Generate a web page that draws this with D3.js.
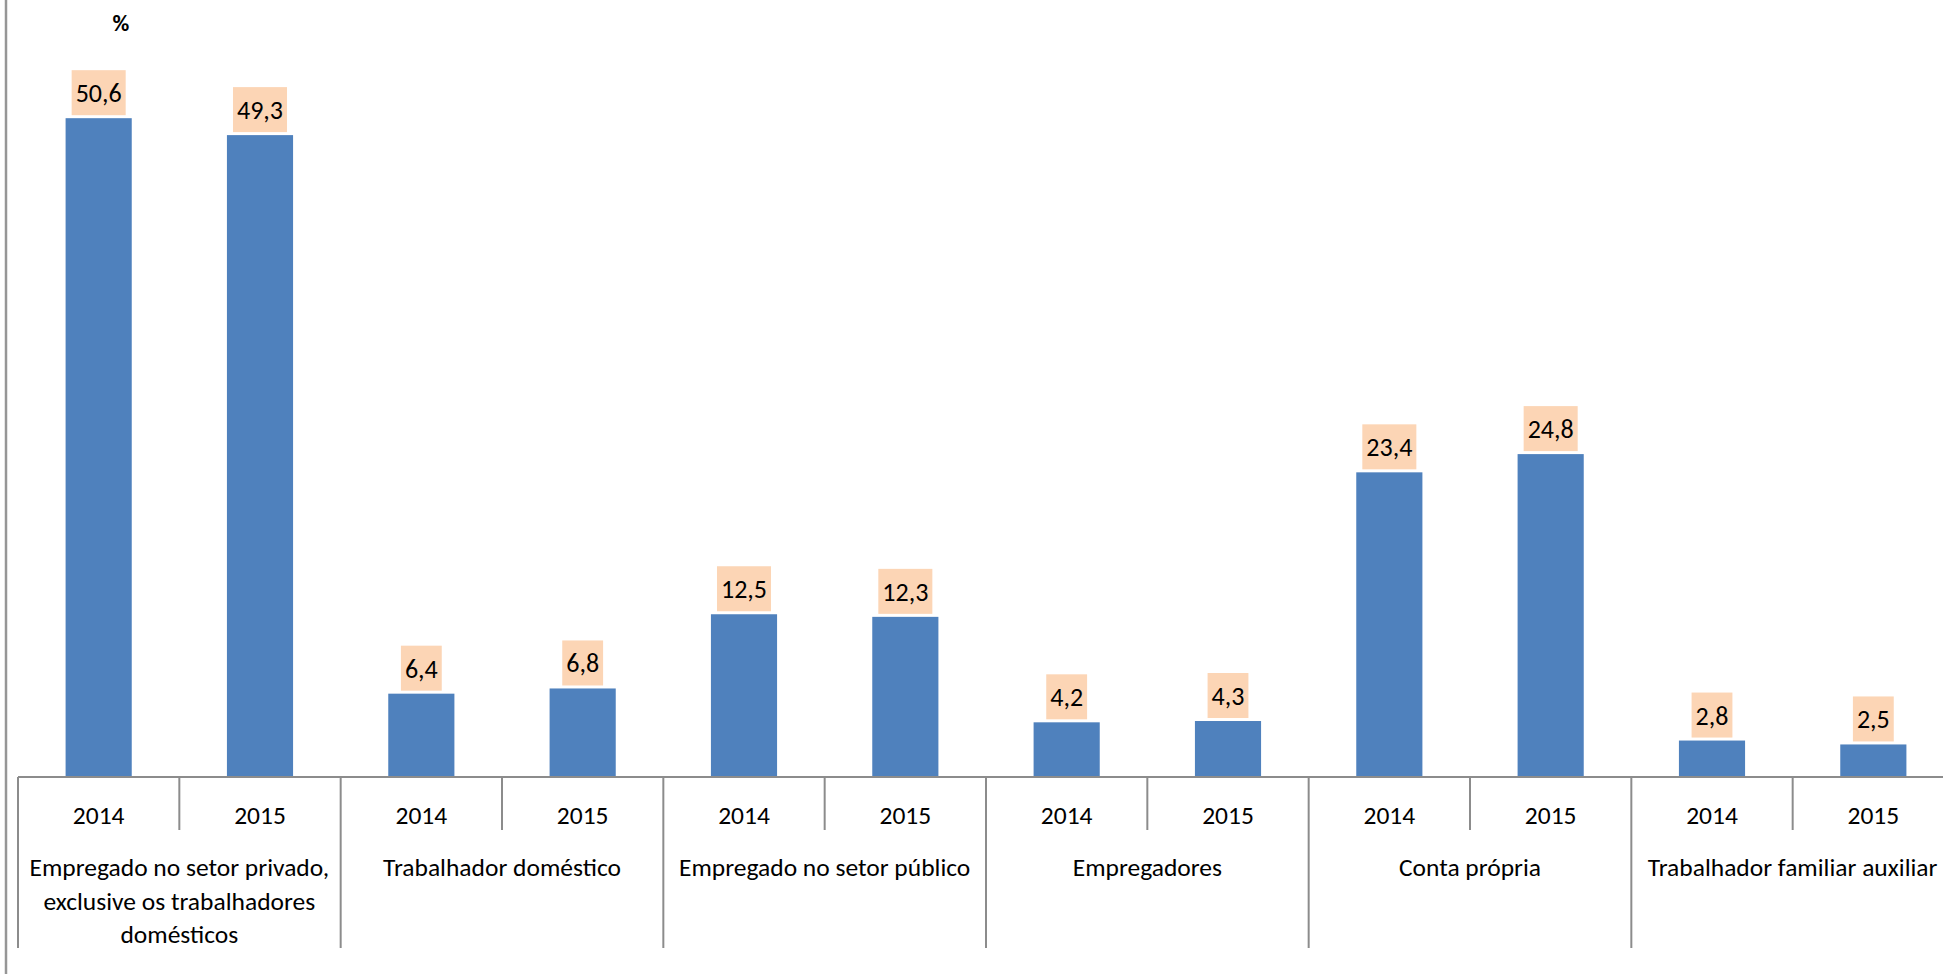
<!DOCTYPE html>
<html>
<head>
<meta charset="utf-8">
<script src="https://cdn.jsdelivr.net/npm/d3@7"></script>
<style>
  body { margin: 0; background: #fff; overflow: hidden; }
  text { font-family: Carlito, "Liberation Sans Narrow", "DejaVu Sans Condensed", sans-serif; fill: #000; }
</style>
</head>
<body>
<script>

// categories (each one has two years) - "\n" marks a line break in the label
var categories = [
  "Empregado no setor privado,\nexclusive os trabalhadores\ndomésticos",
  "Trabalhador doméstico",
  "Empregado no setor público",
  "Empregadores",
  "Conta própria",
  "Trabalhador familiar auxiliar"
];
var years = ["2014", "2015"];
var values2014 = [50.6, 6.4, 12.5, 4.2, 23.4, 2.8];
var values2015 = [49.3, 6.8, 12.3, 4.3, 24.8, 2.5];
var unitLabel = "%";

var width = 1943, height = 974,
    baseY = 777,
    left = 18,
    right = 1954; // the axis runs a bit past the edge of the picture

// one row per bar
var rows = [];
categories.forEach(function(c, i) {
  rows.push({cat: i, year: years[0], value: values2014[i]});
  rows.push({cat: i, year: years[1], value: values2015[i]});
});

var x = d3.scaleBand()
    .domain(d3.range(rows.length))
    .range([left, right])
    .paddingInner(0)
    .paddingOuter(0);

var y = d3.scaleLinear()
    .domain([0, 60])
    .range([baseY, baseY - 60 * 13.02]);

var barW = x.bandwidth() * 0.41;

var svg = d3.select("body").append("svg")
    .attr("width", width)
    .attr("height", height);

// left border line
svg.append("line")
    .attr("x1", 6).attr("x2", 6)
    .attr("y1", 0).attr("y2", height)
    .attr("stroke", "#969696")
    .attr("stroke-width", 2.5);

// % label
svg.append("text")
    .attr("x", 121)
    .attr("y", 31)
    .style("text-anchor", "middle")
    .style("font-weight", "bold")
    .style("font-size", "23px")
    .text(unitLabel);

// bars
svg.selectAll(".bar")
    .data(rows)
  .enter().append("rect")
    .attr("class", "bar")
    .attr("x", function(d, i) { return x(i) + (x.bandwidth() - barW) / 2; })
    .attr("width", barW)
    .attr("y", function(d) { return y(d.value); })
    .attr("height", function(d) { return y(0) - y(d.value); })
    .style("fill", "#4f81bd");

// value labels with peach boxes
var lab = svg.selectAll(".lab")
    .data(rows)
  .enter().append("g")
    .attr("class", "lab")
    .attr("transform", function(d, i) { return "translate(" + (x(i) + x.bandwidth() / 2) + "," + (y(d.value) - 3) + ")"; });

lab.append("rect").attr("class", "box").style("fill", "#fcd5b5");
lab.append("text")
    .attr("y", -13)
    .style("text-anchor", "middle")
    .style("font-size", "26px")
    .text(function(d) { return d3.format(".1f")(d.value).replace(".", ","); });

lab.each(function() {
  var g = d3.select(this);
  var w = g.select("text").node().getComputedTextLength();
  g.select("rect")
      .attr("x", -w / 2 - 4)
      .attr("width", w + 8)
      .attr("y", -45)
      .attr("height", 45);
});

// axis: baseline, year ticks, group separators
var axisColor = "#8c8c8c";
svg.append("line")
    .attr("x1", left).attr("x2", right)
    .attr("y1", baseY).attr("y2", baseY)
    .attr("stroke", axisColor).attr("stroke-width", 2);

// short separators between the two years
svg.selectAll(".ytick")
    .data(categories)
  .enter().append("line")
    .attr("class", "ytick")
    .attr("x1", function(d, i) { return x(i * 2 + 1); })
    .attr("x2", function(d, i) { return x(i * 2 + 1); })
    .attr("y1", baseY).attr("y2", 830)
    .attr("stroke", axisColor).attr("stroke-width", 2);

// long separators between categories
svg.selectAll(".gtick")
    .data(categories)
  .enter().append("line")
    .attr("class", "gtick")
    .attr("x1", function(d, i) { return x(i * 2); })
    .attr("x2", function(d, i) { return x(i * 2); })
    .attr("y1", baseY).attr("y2", 948)
    .attr("stroke", axisColor).attr("stroke-width", 2);

// year labels
svg.selectAll(".year")
    .data(rows)
  .enter().append("text")
    .attr("class", "year")
    .attr("x", function(d, i) { return x(i) + x.bandwidth() / 2; })
    .attr("y", 824)
    .style("text-anchor", "middle")
    .style("font-size", "25.5px")
    .text(function(d) { return d.year; });

// category labels
var catText = svg.selectAll(".cat")
    .data(categories)
  .enter().append("text")
    .attr("class", "cat")
    .attr("x", function(d, i) { return x(i * 2 + 1); })
    .attr("y", 876)
    .style("text-anchor", "middle")
    .style("font-size", "25.5px");

catText.selectAll("tspan")
    .data(function(d) { return d.split("\n"); })
  .enter().append("tspan")
    .attr("x", function() { return d3.select(this.parentNode).attr("x"); })
    .attr("dy", function(d, i) { return i === 0 ? 0 : 33.5; })
    .text(function(d) { return d; });

</script>
</body>
</html>
